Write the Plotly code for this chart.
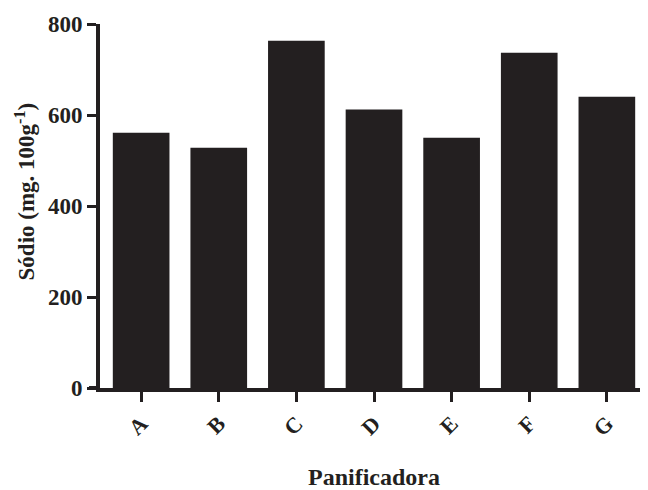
import plotly.graph_objects as go

categories = ["A", "B", "C", "D", "E", "F", "G"]
sodio = [561, 528, 763, 612, 550, 737, 640]
y_ticks = [0, 200, 400, 600, 800]

ink = "#231f20"
font_family = "Liberation Serif"

fig = go.Figure()
fig.add_trace(go.Bar(x=categories, y=sodio, marker=dict(color=ink, line=dict(width=0)), width=0.73))

# page has an 8px body margin, so the figure is sized/offset to compensate
fig.update_layout(
    width=640, height=482,
    margin=dict(l=92, r=0, t=16, b=102),
    paper_bgcolor="white", plot_bgcolor="white",
    showlegend=False,
    font=dict(family=font_family, color=ink),
)
fig.update_xaxes(
    range=[-0.53, 6.53],
    automargin=False,
    showline=True, linecolor=ink, linewidth=4,
    ticks="outside", ticklen=10, tickwidth=3, tickcolor=ink,
    tickangle=-45,
    tickfont=dict(family=font_family, size=22, color=ink, weight="bold"),
    title=dict(text="<b>Panificadora</b>", font=dict(family=font_family, size=24, color=ink), standoff=35),
    showgrid=False, zeroline=False,
)
fig.update_yaxes(
    range=[0, 800],
    automargin=False,
    tickvals=y_ticks,
    showline=True, linecolor=ink, linewidth=4,
    ticks="outside", ticklen=9, tickwidth=3, tickcolor=ink,
    tickfont=dict(family=font_family, size=23, color=ink, weight="bold"),
    showgrid=False, zeroline=False,
)
fig.add_annotation(
    text="<b>Sódio (mg. 100g<sup>-1</sup>)</b>",
    xref="paper", yref="paper", x=0, y=0.54,
    xanchor="center", yanchor="middle", xshift=-75,
    textangle=-90, showarrow=False,
    font=dict(family=font_family, size=23, color=ink),
)
# baseline extends slightly left of the y axis, as in the reference
fig.add_shape(
    type="line", xref="paper", yref="y", x0=-0.02, x1=0, y0=0, y1=0,
    line=dict(color=ink, width=4),
)

fig.write_html("out.html")
